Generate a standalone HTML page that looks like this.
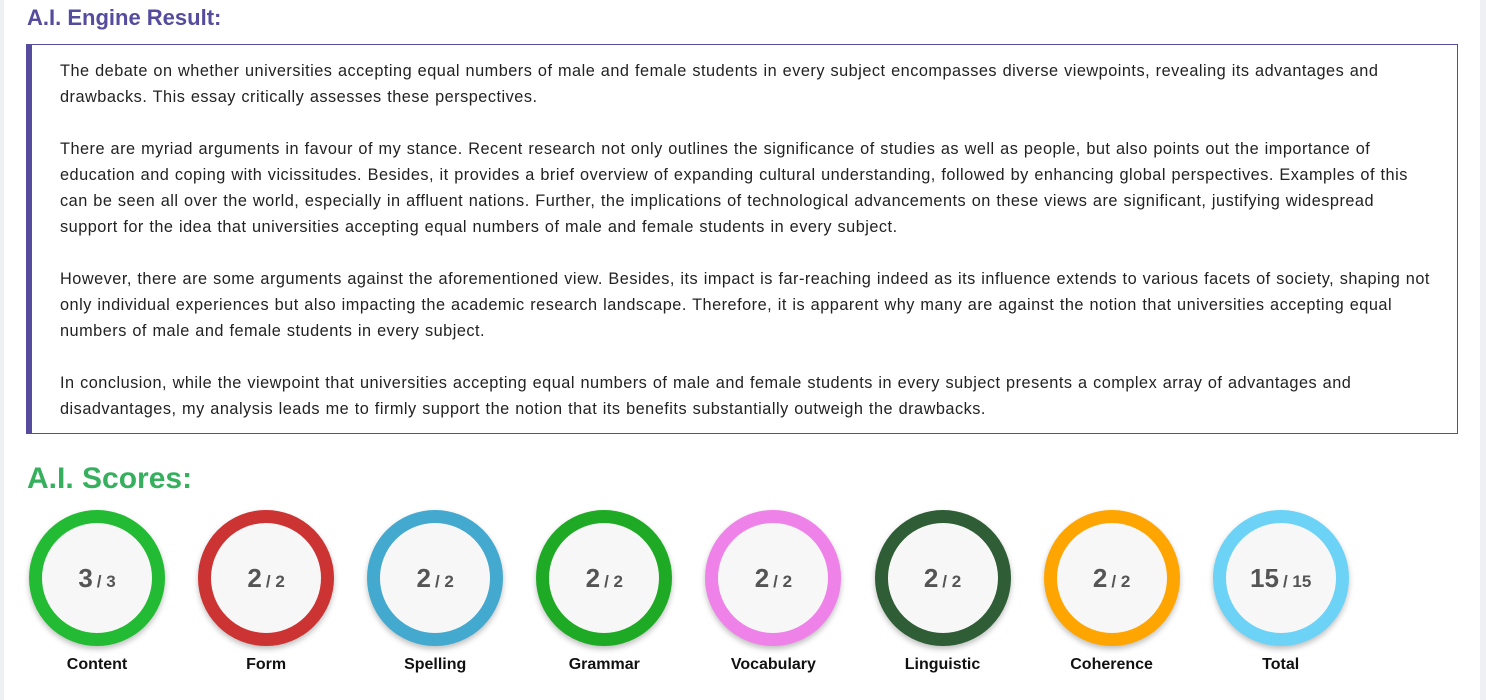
<!DOCTYPE html>
<html><head><meta charset="utf-8"><style>
body{margin:0;width:1486px;height:700px;background:#fff;font-family:"Liberation Sans",sans-serif;position:relative;overflow:hidden}
.lstrip{position:absolute;left:0;top:0;width:4px;height:700px;background:#eef0f4}
.rstrip{position:absolute;right:0;top:0;width:6px;height:700px;background:#eef0f4}
h1{position:absolute;left:27px;top:5px;margin:0;font-size:22px;color:#554c9e;font-weight:bold}
.box{position:absolute;left:26px;top:44px;width:1425px;height:388px;border:1px solid #554c9e;border-left:6px solid #554c9e;box-sizing:content-box}
.box p{margin:0 0 26px 28px;font-size:16.3px;line-height:26px;color:#222;white-space:nowrap;letter-spacing:0.5px;word-spacing:0.5px}
.box p:first-child{margin-top:13px}
h2{position:absolute;left:27px;top:462px;margin:0;font-size:30px;color:#36b05e;font-weight:bold}
.item{position:absolute;top:510px;width:136px;text-align:center}
.ring{width:110px;height:110px;border-radius:50%;border:13px solid;background:#f7f7f7;box-shadow:0 3px 6px rgba(0,0,0,.25);display:flex;align-items:baseline;justify-content:center;color:#555;font-weight:bold;line-height:110px}
.ring b{font-size:26px}.ring span{font-size:17px;margin-left:4px;font-weight:bold}
.lab{margin-top:10px;font-size:16px;font-weight:bold;color:#111}
</style></head><body>
<div class="lstrip"></div>
<div class="rstrip"></div>
<h1>A.I. Engine Result:</h1>
<div class="box">
<p>The debate on whether universities accepting equal numbers of male and female students in every subject encompasses diverse viewpoints, revealing its advantages and<br>drawbacks. This essay critically assesses these perspectives.</p>
<p>There are myriad arguments in favour of my stance. Recent research not only outlines the significance of studies as well as people, but also points out the importance of<br>education and coping with vicissitudes. Besides, it provides a brief overview of expanding cultural understanding, followed by enhancing global perspectives. Examples of this<br>can be seen all over the world, especially in affluent nations. Further, the implications of technological advancements on these views are significant, justifying widespread<br>support for the idea that universities accepting equal numbers of male and female students in every subject.</p>
<p>However, there are some arguments against the aforementioned view. Besides, its impact is far-reaching indeed as its influence extends to various facets of society, shaping not<br>only individual experiences but also impacting the academic research landscape. Therefore, it is apparent why many are against the notion that universities accepting equal<br>numbers of male and female students in every subject.</p>
<p>In conclusion, while the viewpoint that universities accepting equal numbers of male and female students in every subject presents a complex array of advantages and<br>disadvantages, my analysis leads me to firmly support the notion that its benefits substantially outweigh the drawbacks.</p>
</div>
<h2>A.I. Scores:</h2>
<div id="scores"></div>
<script>
const labels=["Content","Form","Spelling","Grammar","Vocabulary","Linguistic","Coherence","Total"];
const scores=[3,2,2,2,2,2,2,15];
const maxes=[3,2,2,2,2,2,2,15];
const colors=["#22bb33","#cc3333","#44a9cf","#1faa25","#ee82e8","#2f5d36","#ffa502","#6cd3f7"];
const c=document.getElementById('scores');
labels.forEach((l,i)=>{
 const d=document.createElement('div');d.className='item';d.style.left=(29+i*169.1)+'px';
 
 
 d.innerHTML='<div class="ring" style="border-color:'+colors[i]+'"><b>'+scores[i]+'</b><span>/ '+maxes[i]+'</span></div><div class="lab">'+l+'</div>';
 c.appendChild(d);
});
</script>
</body></html>
